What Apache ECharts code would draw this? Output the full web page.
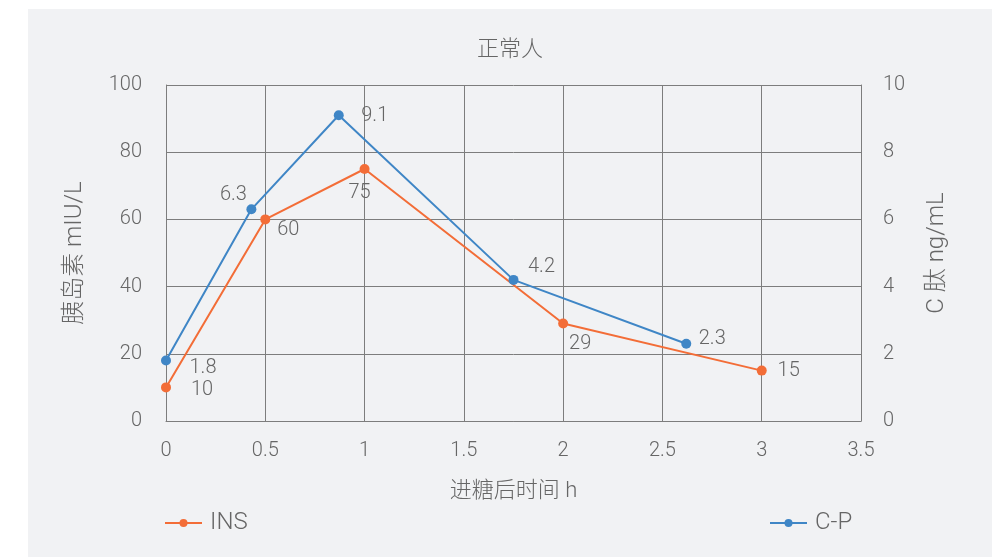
<!DOCTYPE html>
<html>
<head>
<meta charset="utf-8">
<script src="https://cdn.jsdelivr.net/npm/echarts@6/dist/echarts.min.js"></script>
<style>
  html, body { margin: 0; padding: 0; background: #ffffff; }
  #chart { position: absolute; left: 28px; top: 9px; width: 964px; height: 548px; }
</style>
</head>
<body>
<div id="chart"></div>
<script>
// Hours after glucose intake and measured values
const insHours = [0, 0.5, 1, 2, 3];
const insValues = [10, 60, 75, 29, 15];          // 胰岛素 mIU/L
const cpHours = [0, 0.43, 0.87, 1.75, 2.62];
const cpValues = [1.8, 6.3, 9.1, 4.2, 2.3];      // C 肽 ng/mL
const xTicks = [0, 0.5, 1, 1.5, 2, 2.5, 3, 3.5];

// Where each value label sits relative to its point
const insLabelOffset = [[36, 3], [23, 11], [-5, 24], [17, 20], [27, 0]];
const cpLabelOffset = [[37, 7], [-18, -14], [36, 1], [28, -13], [26, -5]];

const FONT = 'Roboto, "Noto Sans CJK SC", sans-serif';
const TEXT = '#666666';
const GRIDLINE = '#7d7d7d';
const ORANGE = '#f36d37';
const BLUE = '#3f86c6';

function points(xs, ys, offsets) {
  return xs.map((x, i) => ({
    value: [x, ys[i]],
    label: { offset: offsets[i] }
  }));
}

const labelStyle = {
  show: true,
  position: 'inside',
  align: 'center',
  verticalAlign: 'middle',
  color: TEXT,
  fontSize: 20,
  fontFamily: FONT,
  fontWeight: 300
};

const legendText = { fontSize: 24, fontWeight: 300, color: TEXT, fontFamily: FONT, padding: [0, 0, 0, 3] };

const chart = echarts.init(document.getElementById('chart'));
chart.setOption({
  backgroundColor: '#f1f2f4',
  animation: false,
  textStyle: { fontFamily: FONT },
  title: {
    text: '正常人',
    left: 'center',
    top: 25,
    textStyle: { fontSize: 22, fontWeight: 300, color: TEXT, fontFamily: FONT }
  },
  legend: [
    {
      data: ['INS'],
      left: 131,
      top: 497,
      itemWidth: 37,
      itemHeight: 10,
      textStyle: legendText
    },
    {
      data: ['C-P'],
      left: 736,
      top: 497,
      itemWidth: 37,
      itemHeight: 10,
      textStyle: legendText
    }
  ],
  grid: { left: 138, right: 131, top: 76, bottom: 136 },
  xAxis: {
    type: 'value',
    min: xTicks[0],
    max: xTicks[xTicks.length - 1],
    interval: 0.5,
    name: '进糖后时间 h',
    nameLocation: 'middle',
    nameGap: 59,
    nameTextStyle: { fontSize: 22, fontWeight: 300, color: TEXT },
    axisLine: { show: true, lineStyle: { color: GRIDLINE, width: 1 } },
    axisTick: { show: false },
    axisLabel: { color: TEXT, fontSize: 20, fontWeight: 300, margin: 20 },
    splitLine: { show: true, lineStyle: { color: GRIDLINE, width: 1 } }
  },
  yAxis: [
    {
      type: 'value',
      min: 0,
      max: 100,
      interval: 20,
      name: '胰岛素 mIU/L',
      nameLocation: 'middle',
      nameGap: 79,
      nameTextStyle: { fontSize: 24, fontWeight: 300, color: TEXT },
      axisLine: { show: true, lineStyle: { color: GRIDLINE, width: 1 } },
      axisTick: { show: false },
      axisLabel: { color: TEXT, fontSize: 20, fontWeight: 300, margin: 24 },
      splitLine: { show: true, lineStyle: { color: GRIDLINE, width: 1 } }
    },
    {
      type: 'value',
      min: 0,
      max: 10,
      interval: 2,
      position: 'right',
      name: 'C 肽 ng/mL',
      nameLocation: 'middle',
      nameGap: 64,
      nameRotate: 90,
      nameTextStyle: { fontSize: 24, fontWeight: 300, color: TEXT },
      axisLine: { show: true, lineStyle: { color: GRIDLINE, width: 1 } },
      axisTick: { show: false },
      axisLabel: { color: TEXT, fontSize: 20, fontWeight: 300, margin: 22 },
      splitLine: { show: false }
    }
  ],
  series: [
    {
      name: 'INS',
      type: 'line',
      yAxisIndex: 0,
      data: points(insHours, insValues, insLabelOffset),
      symbol: 'circle',
      symbolSize: 10,
      lineStyle: { color: ORANGE, width: 2 },
      itemStyle: { color: ORANGE },
      label: labelStyle,
      z: 3
    },
    {
      name: 'C-P',
      type: 'line',
      yAxisIndex: 1,
      data: points(cpHours, cpValues, cpLabelOffset),
      symbol: 'circle',
      symbolSize: 10,
      lineStyle: { color: BLUE, width: 2 },
      itemStyle: { color: BLUE },
      label: labelStyle,
      z: 4
    }
  ]
});
</script>
</body>
</html>
